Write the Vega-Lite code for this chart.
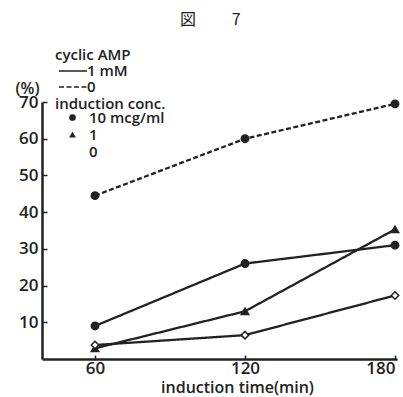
{
  "$schema": "https://vega.github.io/schema/vega-lite/v6.json",
  "autosize": {"type": "none"},
  "width": 355,
  "height": 257,
  "padding": {"left": 42, "top": 102, "right": 6, "bottom": 38},
  "background": "white",
  "title": {"text": "図\u00a0\u00a0\u00a0\u00a0\u00a0\u00a0\u00a0\u00a0\u00a0\u00a07", "font": "Noto Sans CJK JP", "fontSize": 16, "fontWeight": "normal", "color": "#222", "anchor": "start", "dx": 165, "offset": 20},
  "config": {
    "view": {"stroke": null},
    "font": "Open Sans",
    "axis": {"labelFont": "Open Sans", "labelFontWeight": 600, "labelColor": "#222", "titleFont": "Open Sans", "titleFontWeight": 600, "titleColor": "#222", "domainColor": "#222", "tickColor": "#222", "grid": false},
    "legend": {"titleFont": "Open Sans", "titleFontWeight": 600, "titleFontSize": 15, "titleColor": "#222", "labelFont": "Open Sans", "labelFontWeight": 600, "labelFontSize": 15, "labelColor": "#222"}
  },
  "data": {"values": [
    {"time": 60, "value": 44.5, "camp": "0", "conc": "10 mcg/ml", "series": "A"},
    {"time": 120, "value": 60, "camp": "0", "conc": "10 mcg/ml", "series": "A"},
    {"time": 180, "value": 69.5, "camp": "0", "conc": "10 mcg/ml", "series": "A"},
    {"time": 60, "value": 9, "camp": "1 mM", "conc": "10 mcg/ml", "series": "B"},
    {"time": 120, "value": 26, "camp": "1 mM", "conc": "10 mcg/ml", "series": "B"},
    {"time": 180, "value": 31, "camp": "1 mM", "conc": "10 mcg/ml", "series": "B"},
    {"time": 60, "value": 2.9, "camp": "1 mM", "conc": "1", "series": "C"},
    {"time": 120, "value": 13, "camp": "1 mM", "conc": "1", "series": "C"},
    {"time": 180, "value": 35.3, "camp": "1 mM", "conc": "1", "series": "C"},
    {"time": 60, "value": 3.8, "camp": "1 mM", "conc": "0", "series": "D"},
    {"time": 120, "value": 6.5, "camp": "1 mM", "conc": "0", "series": "D"},
    {"time": 180, "value": 17.3, "camp": "1 mM", "conc": "0", "series": "D"}
  ]},
  "encoding": {
    "x": {"field": "time", "type": "quantitative",
      "scale": {"domain": [38.8, 180.8], "nice": false, "zero": false},
      "axis": {"values": [60, 120, 180], "title": "induction time(min)", "labelFontSize": 17, "titleFontSize": 16, "domainWidth": 2.5, "tickSize": -4, "tickWidth": 1.5, "labelPadding": 5, "labelFlush": 5, "titleX": 195, "titleY": 33, "titleBaseline": "alphabetic", "titleAnchor": "middle", "titleAlign": "center"}},
    "y": {"field": "value", "type": "quantitative",
      "scale": {"domain": [0, 70], "nice": false},
      "axis": {"values": [10, 20, 30, 40, 50, 60, 70], "title": "(%)", "titleAngle": 0, "titleFontSize": 16, "titleX": -15, "titleY": -14, "titleAlign": "center", "titleBaseline": "middle", "labelFontSize": 17, "domainWidth": 2.5, "tickSize": -5, "tickWidth": 1.5, "labelPadding": 9}}
  },
  "layer": [
    {
      "mark": {"type": "line", "color": "#222", "strokeWidth": 2.3},
      "encoding": {
        "detail": {"field": "series"},
        "strokeDash": {"field": "camp", "type": "nominal",
          "scale": {"domain": ["1 mM", "0"], "range": [[1, 0], [5, 2.5]]},
          "legend": {"title": "cyclic AMP", "orient": "none", "legendX": 13, "legendY": -54, "symbolType": "M-2,0H2", "symbolSize": 196, "symbolStrokeWidth": 1.5, "symbolStrokeColor": "#222", "symbolOffset": 10, "labelOffset": 6, "rowPadding": 0, "titlePadding": 0, "padding": 0}}
      }
    },
    {
      "mark": {"type": "point", "filled": true, "stroke": "#222", "strokeWidth": 1.5, "size": 55, "opacity": 1},
      "encoding": {
        "shape": {"field": "conc", "type": "nominal",
          "scale": {"domain": ["10 mcg/ml", "1", "0"], "range": ["circle", "triangle-up", "diamond"]},
          "legend": {"title": "induction conc.", "orient": "none", "legendX": 13, "legendY": -5, "symbolOffset": 10, "labelOffset": 9, "rowPadding": 1, "titlePadding": -2, "padding": 0, "symbolStrokeColor": "#222", "symbolStrokeWidth": 1.5, "symbolSize": 45}},
        "fill": {"field": "conc", "type": "nominal",
          "scale": {"domain": ["10 mcg/ml", "1", "0"], "range": ["#222", "#222", "white"]},
          "legend": {"title": "induction conc.", "orient": "none", "legendX": 13, "legendY": -5, "symbolOffset": 10, "labelOffset": 9, "rowPadding": 1, "titlePadding": -2, "padding": 0, "symbolStrokeColor": "#222", "symbolStrokeWidth": 1.5, "symbolSize": 45}}
      }
    }
  ]
}
